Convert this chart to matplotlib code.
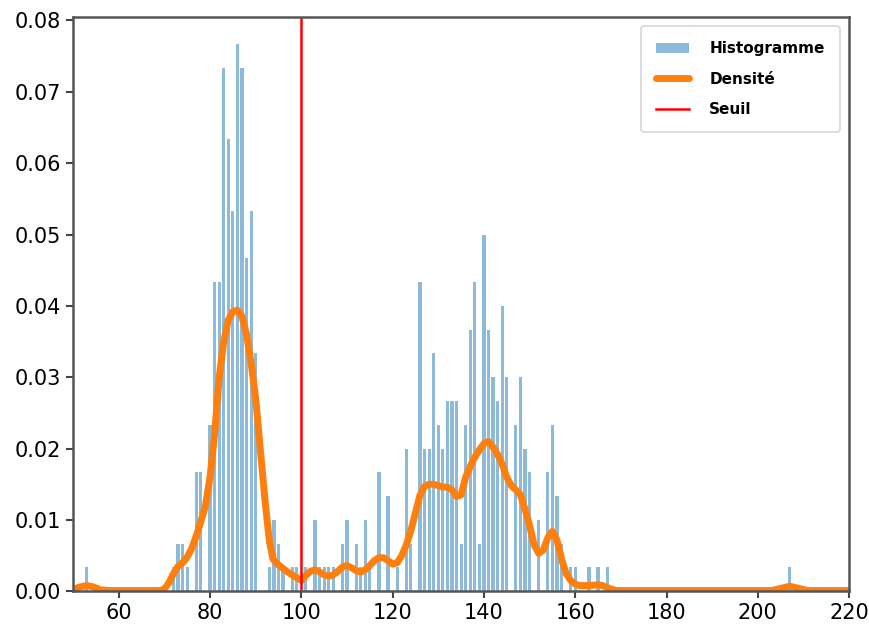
import matplotlib.pyplot as plt
import numpy as np

# histogram: integer values and number of observations in each bin
values = [53, 72, 73, 74, 75, 77, 78, 80, 81, 82, 83, 84, 85, 86, 87, 88, 89, 90,
          93, 94, 95, 96, 98, 99, 101, 103, 104, 105, 106, 107, 109, 110, 112, 113,
          114, 115, 117, 119, 121, 123, 124, 126, 127, 128, 129, 130, 131, 132, 133,
          134, 135, 136, 137, 138, 139, 140, 141, 142, 143, 144, 145, 147, 148, 149,
          150, 152, 154, 155, 156, 157, 159, 160, 163, 165, 167, 207]
counts = [1, 1, 2, 2, 1, 5, 5, 7, 13, 13, 22, 19, 16, 23, 22, 14, 16, 10,
          1, 3, 2, 1, 1, 1, 1, 3, 1, 1, 1, 1, 2, 3, 2, 1,
          3, 1, 5, 4, 1, 6, 2, 13, 6, 6, 10, 7, 6, 8, 8,
          8, 2, 7, 11, 13, 2, 15, 11, 9, 8, 12, 9, 7, 9, 6,
          5, 3, 5, 7, 4, 2, 1, 1, 1, 1, 1, 1]
density_scale = 300  # n * bin width

# density curve
kde_x = [50, 51.5, 53, 54.5, 56, 58, 62, 66, 69, 70, 71, 72, 73, 74, 75, 76, 77,
         78, 79, 80, 81, 82, 83, 84, 85, 86, 87, 88, 89, 90, 91, 92, 93, 93.8, 95,
         97, 99, 100, 101, 102, 103, 104, 105, 106, 107, 108, 109, 110, 111, 112,
         113, 114, 115, 116, 117, 118, 119, 120, 121, 122, 123, 124, 125, 126, 127,
         128, 129, 130, 131, 132, 133, 134, 135, 136, 137, 138, 139, 140, 141, 142,
         143, 144, 145, 146, 147, 148, 149, 150, 151, 152, 153, 154, 155, 156, 157,
         158, 159, 160, 161, 163, 165, 166, 167, 168, 169, 175, 185, 195, 203, 205,
         207, 209, 211, 215, 220]
kde_y = [0.0003, 0.0006, 0.0008, 0.0006, 0.0002, 0.0001, 0.0001, 0.0001, 0.0001,
         0.0003, 0.0012, 0.0025, 0.0035, 0.004, 0.0048, 0.006, 0.0078, 0.0098,
         0.012, 0.016, 0.022, 0.03, 0.035, 0.038, 0.0392, 0.0394, 0.0385, 0.036,
         0.032, 0.027, 0.02, 0.013, 0.007, 0.0045, 0.0037, 0.0027, 0.0019, 0.0015,
         0.0022, 0.0028, 0.003, 0.0027, 0.0023, 0.0021, 0.0023, 0.0028, 0.0034,
         0.0036, 0.0033, 0.0029, 0.0027, 0.003, 0.0036, 0.0043, 0.0047, 0.0047,
         0.0043, 0.0038, 0.004, 0.005, 0.0065, 0.0085, 0.011, 0.0135, 0.0147,
         0.015, 0.015, 0.0148, 0.0146, 0.0146, 0.0142, 0.0133, 0.0135, 0.016,
         0.0175, 0.0188, 0.0198, 0.0207, 0.021, 0.0202, 0.0192, 0.0178, 0.016,
         0.0148, 0.0142, 0.0135, 0.0115, 0.0092, 0.0065, 0.0053, 0.0058, 0.0075,
         0.0084, 0.0072, 0.0045, 0.0025, 0.0015, 0.001, 0.0008, 0.0008, 0.0009,
         0.0008, 0.0005, 0.0003, 0.0001, 0.0001, 0.0001, 0.0001, 0.0001, 0.0004,
         0.0007, 0.0004, 0.0001, 0.0001, 0.0001]

seuil = 100

heights = np.array(counts) / density_scale

fig = plt.figure(figsize=(8.7, 6.27), dpi=100)
ax = fig.add_axes([0.084, 0.057, 0.892, 0.916])

h1 = ax.bar(values, heights, width=0.7, color='#1f77b4', alpha=0.5, label='Histogramme')
h2, = ax.plot(kde_x, kde_y, color='#ff7f0e', lw=5, label='Densité',
              solid_capstyle='round', solid_joinstyle='round')
h3 = ax.axvline(seuil, color='red', lw=1.8, label='Seuil')

ax.set_xlim(50, 220)
ax.set_ylim(0, 0.0805)
ax.set_yticks(np.arange(0, 0.081, 0.01))
ax.set_xticks(np.arange(60, 221, 20))
ax.tick_params(labelsize=15, width=1.5, length=5, color='#444444')
for s in ax.spines.values():
    s.set_color('#555555')
    s.set_linewidth(1.8)

leg = ax.legend(handles=[h1, h2, h3], loc='upper right',
                prop={'weight': 'bold', 'size': 11},
                handlelength=2.2, borderpad=1.0, labelspacing=1.0,
                handletextpad=1.3, borderaxespad=0.6)
leg.get_frame().set_linewidth(1.2)

fig.savefig('out.png', dpi=100)
